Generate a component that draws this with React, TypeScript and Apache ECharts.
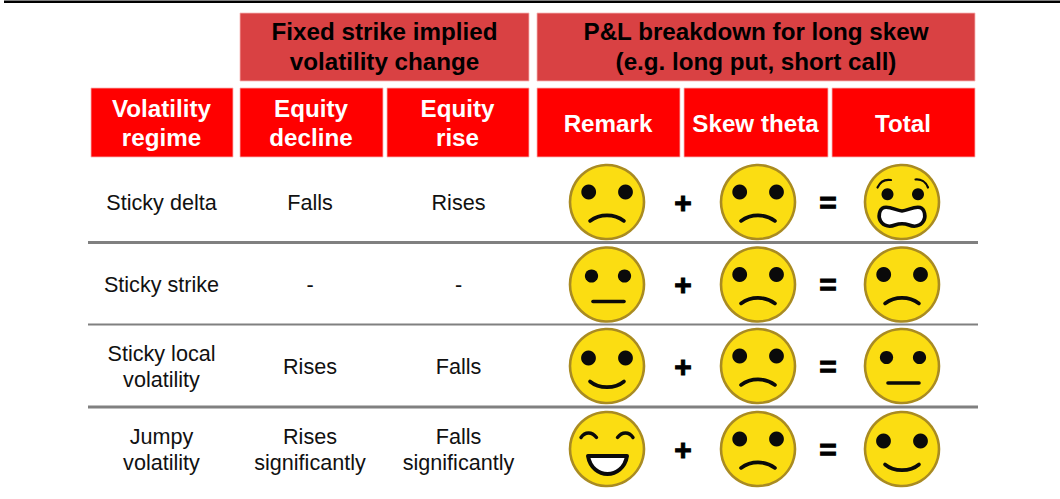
import React, { useEffect, useRef } from "react";
import * as echarts from "echarts";

const groupHeaders = ["Fixed strike implied\nvolatility change", "P&L breakdown for long skew\n(e.g. long put, short call)"];
const columnHeaders = ["Volatility\nregime", "Equity\ndecline", "Equity\nrise", "Remark", "Skew theta", "Total"];
const regimes = ["Sticky delta", "Sticky strike", "Sticky local\nvolatility", "Jumpy\nvolatility"];
const equityDecline = ["Falls", "-", "Rises", "Rises\nsignificantly"];
const equityRise = ["Rises", "-", "Falls", "Falls\nsignificantly"];
const remarkFaces = ["sad", "neutral", "happy", "laugh"];
const thetaFaces = ["sad", "sad", "sad", "sad"];
const totalFaces = ["scared", "sad", "neutral", "happy"];

const FONT = '"Liberation Sans", Arial, sans-serif';
const rowY = [202, 284.5, 366, 449];
const lineY = [242.5, 324.5, 407];
const colX = [161.5, 310, 458.5];
const faceX = [607, 758, 902];
const groupRects = [[240, 529], [537, 975]];
const headerRects = [[91, 233], [240, 383], [387, 529], [537, 680], [684, 828], [832, 975]];

echarts.graphic.registerShape("mouthSad", echarts.graphic.extendPath("M-17 19 C-7 11.5 7 11.5 17 19", {}));
echarts.graphic.registerShape("mouthFlat", echarts.graphic.extendPath("M-14 17 L17 17", {}));
echarts.graphic.registerShape("mouthSmile", echarts.graphic.extendPath("M-17 15.5 C-8 23 8 23 17 15.5", {}));
echarts.graphic.registerShape("mouthLaugh", echarts.graphic.extendPath("M-19 7 L20 7 C18 19 9 25 0.5 25 C-8 25 -17 19 -19 7 Z", {}));
echarts.graphic.registerShape("mouthScared", echarts.graphic.extendPath("M-18 5.5 C-12 4 -6 8.5 0 9 C6 8.5 12 4 18 5.5 C23 7 24 15 21.5 19 C18 24.5 12 25 7 23 C3 21.5 -3 21.5 -7 23 C-12 25 -18 24.5 -21.5 19 C-24 15 -23 7 -18 5.5 Z", {}));
echarts.graphic.registerShape("browLeft", echarts.graphic.extendPath("M-24.5 -14.5 C-22 -20 -17 -23 -11 -22", {}));
echarts.graphic.registerShape("browRight", echarts.graphic.extendPath("M13.5 -22.5 C19 -23 24 -20 26 -14.5", {}));
echarts.graphic.registerShape("lidLeft", echarts.graphic.extendPath("M-26 -11.5 C-22 -17.5 -15 -17.5 -10.5 -11.5", {}));
echarts.graphic.registerShape("lidRight", echarts.graphic.extendPath("M10.5 -11.5 C15 -17.5 22 -17.5 26 -11.5", {}));

const INK = "#0a0a0a";

function eye(x: number, y: number, r: number) {
  return { type: "circle", shape: { cx: x, cy: y, r }, style: { fill: INK } };
}

function stroke(type: string, width: number, fill = "none") {
  return { type, style: { fill, stroke: INK, lineWidth: width, lineCap: "round", lineJoin: "round" } };
}

function faceParts(mood: string): any[] {
  switch (mood) {
    case "neutral":
      return [eye(-15.5, -8.5, 6.6), eye(17.5, -8.5, 6.6), stroke("mouthFlat", 3.6)];
    case "happy":
      return [eye(-18.5, -8, 7.4), eye(18.5, -8, 7.4), stroke("mouthSmile", 3.6)];
    case "laugh":
      return [stroke("lidLeft", 3.4), stroke("lidRight", 3.4), stroke("mouthLaugh", 4, "#ffffff")];
    case "scared":
      return [eye(-14.5, -7.7, 6), eye(16, -7.7, 6), stroke("browLeft", 2.2), stroke("browRight", 2.2), stroke("mouthScared", 3.6, "#ffffff")];
    default:
      return [eye(-18.3, -10, 7.4), eye(18.5, -10, 7.4), stroke("mouthSad", 3.6)];
  }
}

function face(x: number, y: number, mood: string) {
  return {
    type: "group",
    x,
    y,
    children: [
      { type: "circle", shape: { cx: 0, cy: 0, r: 37 }, style: { fill: "#FBDD12", stroke: "#A98B22", lineWidth: 2.6 } },
      ...faceParts(mood),
    ],
  };
}

function label(text: string, x: number, y: number, font: string, fill: string, lineHeight: number, heavy = 0) {
  return {
    type: "text",
    x,
    y,
    style: {
      text, font, fill, lineHeight,
      align: "center", verticalAlign: "middle", textAlign: "center", textVerticalAlign: "middle",
      ...(heavy ? { stroke: fill, lineWidth: heavy } : {}),
    },
  };
}

function cell(x0: number, x1: number, y0: number, y1: number, fill: string) {
  return { type: "rect", shape: { x: x0, y: y0, width: x1 - x0, height: y1 - y0 }, style: { fill, stroke: "#F7B5B5", lineWidth: 0.8 } };
}

export default function App() {
  const ref = useRef<HTMLDivElement>(null);

  useEffect(() => {
    const chart = echarts.init(ref.current!, null, { renderer: "svg" });
    const els: any[] = [];

    els.push({ type: "rect", shape: { x: 4, y: 0.5, width: 1056, height: 2.5 }, style: { fill: "#000000" } });

    groupHeaders.forEach((t, i) => {
      const [a, b] = groupRects[i];
      els.push(cell(a, b, 13, 81, "#D94143"));
      els.push(label(t, (a + b) / 2, 46.5, `bold 24.2px ${FONT}`, "#000000", 30));
    });
    columnHeaders.forEach((t, i) => {
      const [a, b] = headerRects[i];
      els.push(cell(a, b, 88, 157, "#FF0000"));
      els.push(label(t, (a + b) / 2 - 0.5, 123, `bold 24.2px ${FONT}`, "#ffffff", 29));
    });

    lineY.forEach((y, i) => {
      els.push({ type: "rect", shape: { x: 88, y: y - (i === 1 ? 1 : 1.5), width: 890, height: i === 1 ? 2 : 3 }, style: { fill: "#808080" } });
    });

    const bodyFont = `21.6px ${FONT}`;
    regimes.forEach((r, i) => {
      const y = rowY[i];
      els.push(label(r, colX[0], y, bodyFont, "#111111", 26));
      els.push(label(equityDecline[i], colX[1], y, bodyFont, "#111111", 26));
      els.push(label(equityRise[i], colX[2], y, bodyFont, "#111111", 26));
      els.push(face(faceX[0], y, remarkFaces[i]));
      els.push(face(faceX[1], y, thetaFaces[i]));
      els.push(face(faceX[2], y, totalFaces[i]));
      els.push(label("+", 683, y, `bold 30px ${FONT}`, "#000000", 30, 1));
      els.push(label("=", 828, y, `bold 30px ${FONT}`, "#000000", 30, 1));
    });

    chart.setOption({ animation: false, backgroundColor: "#ffffff", graphic: { elements: els } });
    return () => chart.dispose();
  }, []);

  return <div ref={ref} style={{ position: "absolute", left: 0, top: 0, width: 1060, height: 499 }} />;
}
